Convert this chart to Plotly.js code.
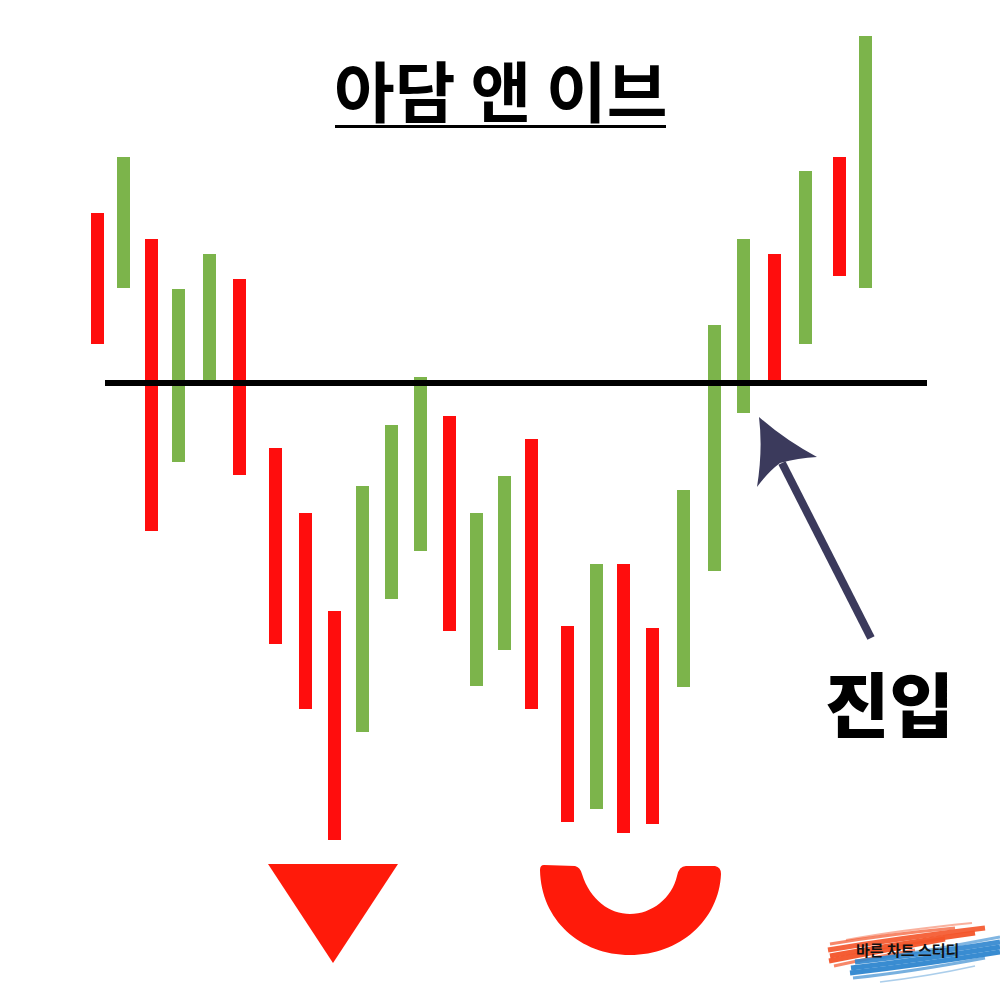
<!DOCTYPE html>
<html><head><meta charset="utf-8">
<script src="https://cdn.plot.ly/plotly-3.0.1.min.js"></script>
<style>html,body{margin:0;padding:0;background:#fff}#c{width:1000px;height:1000px}</style>
</head><body><div id="c"></div>
<script>
const barX    = [97,123,151,178,209,239,275,305,334,362,391,420,449,476,504,531,567,596,623,652,683,714,743,774,805,839,865];
const barTop  = [213,157,239,289,254,279,448,513,611,486,425,377,416,513,476,439,626,564,564,628,490,325,239,254,171,157,36];
const barLow  = [344,288,531,462,381,475,644,709,840,732,599,551,631,686,650,709,822,809,833,824,687,571,413,381,344,276,288];
const barKind = ['r','g','r','g','g','r','r','r','r','g','g','g','r','g','g','r','r','g','r','r','g','g','g','r','g','r','g'];
const palette = {r:'#ff0d0d', g:'#7cb44b'};
const necklineX = [105,927];
const necklineY = [383,383];
const triangleX = [268,398,333,268];
const triangleY = [864,864,963,864];
const titleText = '아담 앤 이브';
const entryText = '진입';
const logoText = '바른 차트 스터디';

const orangeStrokes = [
  ['M 846 940 Q 900 930 972 923', 2, .45],['M 830 944 Q 890 934 955 928', 3, .7],
  ['M 828 950 Q 900 938 985 928', 5, .9],['M 830 956 Q 890 945 975 933', 5, .95],
  ['M 829 961 Q 880 951 945 939', 5, .95],['M 834 966 Q 870 958 915 950', 3, .7]];
const blueStrokes = [
  ['M 880 958 Q 940 949 1000 937', 3, .6],['M 855 962 Q 920 955 1000 942', 5, .9],
  ['M 851 968 Q 920 960 1000 947', 5, .95],['M 850 973 Q 920 965 1000 952', 5, .95],
  ['M 853 978 Q 910 972 985 958', 3, .65],['M 880 982 Q 930 976 975 966', 1.5, .4]];
function stroke(a,col){return {type:'path',path:a[0],xref:'x',yref:'y',line:{color:col,width:a[1]},opacity:a[2],layer:'below'};}

const traces = [
  {type:'bar', x:barX, y:barLow.map((v,i)=>v-barTop[i]), base:barTop, width:13,
   marker:{color:barKind.map(k=>palette[k]), line:{width:0}}, hoverinfo:'skip'},
  {type:'scatter', mode:'lines', x:necklineX, y:necklineY, line:{color:'#000',width:6}, hoverinfo:'skip'},
  {type:'scatter', mode:'lines', x:triangleX, y:triangleY, fill:'toself', fillcolor:'#ff1a0a', line:{color:'#ff1a0a',width:0}, hoverinfo:'skip'}
];
const layout = {
  width:1000, height:1000, margin:{l:0,r:0,t:0,b:0}, showlegend:false,
  paper_bgcolor:'#fff', plot_bgcolor:'#fff', bargap:0,
  xaxis:{range:[0,1000], visible:false, fixedrange:true},
  yaxis:{range:[1000,0], visible:false, fixedrange:true},
  shapes:[
    ...orangeStrokes.map(s=>stroke(s,'#f4552a')),
    ...blueStrokes.map(s=>stroke(s,'#2f86cf')),
    {type:'rect',x0:335,x1:666,y0:125,y1:128,xref:'x',yref:'y',fillcolor:'#000',line:{width:0}},
    {type:'path',xref:'x',yref:'y',fillcolor:'#ff1a0a',line:{width:0},
     path:'M 544 865 L 575 866 Q 580 867 582 874 C 590 900 610 914 630 914 C 652 914 672 898 677 876 Q 679 866 686 866 L 715 866 Q 721 867 721 874 C 719 920 680 955 630 955 C 580 955 541 920 540 870 Q 540 865 544 865 Z'},
    {type:'line',xref:'x',yref:'y',x0:871,y0:638,x1:782,y1:463,line:{color:'#3b3a5c',width:8}},
    {type:'path',xref:'x',yref:'y',fillcolor:'#3b3a5c',line:{width:0},
     path:'M 759 417 Q 785 440 817 457 Q 798 458 780 463 Q 768 472 757 487 Q 763 450 759 417 Z'}
  ],
  annotations:[
    {text:'<b>'+titleText+'</b>',x:501,y:88,xref:'x',yref:'y',showarrow:false,xanchor:'center',yanchor:'middle',
     font:{family:'"Noto Sans CJK KR"',size:66,color:'#000'}},
    {text:entryText,x:889,y:701,xref:'x',yref:'y',showarrow:false,xanchor:'center',yanchor:'middle',
     font:{family:'"Noto Sans CJK KR"',size:70,color:'#000',weight:900}},
    {text:'<b>'+logoText+'</b>',x:907,y:949,xref:'x',yref:'y',showarrow:false,xanchor:'center',yanchor:'middle',
     font:{family:'"Noto Sans CJK KR"',size:15,color:'#111'}}
  ]
};
Plotly.newPlot('c',traces,layout,{staticPlot:true,displayModeBar:false});
</script></body></html>
